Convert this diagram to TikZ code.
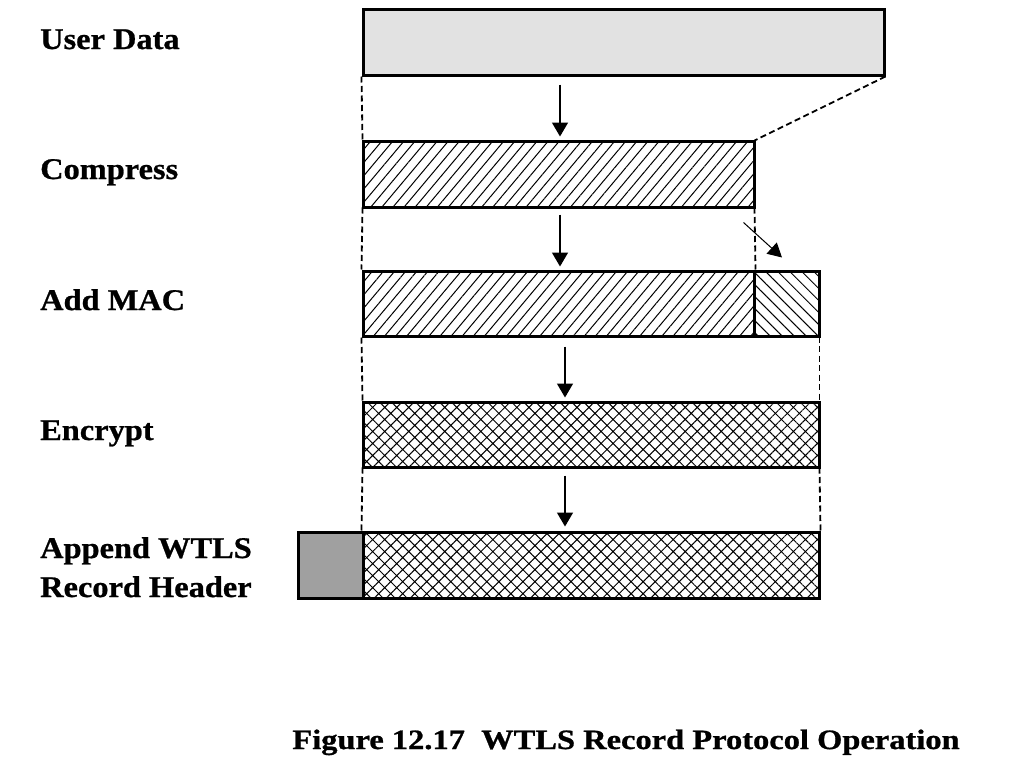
\documentclass[tikz,border=0pt]{standalone}
\usepackage{fontspec}
\setmainfont{Liberation Serif}[BoldFeatures={FakeBold=0.8}]
\usetikzlibrary{patterns.meta,arrows.meta}
\begin{document}
\begin{tikzpicture}[x=1pt,y=-1pt,
  box/.style={draw=black,line width=3pt,inner sep=0pt,minimum height=65pt},
  hatchR/.style={pattern={Lines[angle=50,distance=8.5pt,line width=1pt]}},
  hatchL/.style={pattern={Lines[angle=-45,distance=8.5pt,line width=1pt]}},
  xhatch/.style={pattern={Hatch[angle=45,distance=8.5pt,line width=1pt]}},
  guide/.style={line width=1.8pt,dash pattern=on 6pt off 3.5pt},
  arr/.style={line width=1.5pt,-{Triangle[length=14pt,width=16pt]}},
  thinarr/.style={line width=1pt,-{Triangle[length=14pt,width=15pt]}},
  lbl/.style={anchor=base west,inner sep=0pt,font=\fontsize{30}{34}\selectfont\bfseries}
]
\useasboundingbox[fill=white] (0,0) rectangle (1024,768);

% boxes
\node[box,fill={rgb,255:red,226;green,226;blue,226},minimum width=521pt] (ud) at (623.5,42.5) {};
\node[box,hatchR,minimum width=391pt,minimum height=66pt] (cp) at (558.5,174) {};
\node[box,hatchR,minimum width=391pt] (mac1) at (558.5,303.5) {};
\node[box,hatchL,minimum width=65pt] (mac2) at (786.5,303.5) {};
\node[box,xhatch,minimum width=456pt] (enc) at (591,434.5) {};
\node[box,fill={rgb,255:red,160;green,160;blue,160},minimum width=65pt,minimum height=66pt] (hdr) at (330.5,565) {};
\node[box,xhatch,minimum width=456pt,minimum height=66pt] (enc2) at (591,565) {};

% dashed guides
\draw[guide] (ud.south west) -- (cp.north west);
\draw[guide] (ud.south east) -- (cp.north east);
\draw[guide] (cp.south west) -- (mac1.north west);
\draw[guide] (cp.south east) -- (mac1.north east);
\draw[guide] (mac1.south west) -- (enc.north west);
\draw[guide] (mac2.south east) -- (enc.north east);
\draw[guide] (enc.south west) -- (enc2.north west);
\draw[guide] (enc.south east) -- (enc2.north east);

% arrows
\draw[arr,shorten <=8pt,shorten >=4pt] ([xshift=1.5pt]cp.north |- ud.south) -- ([xshift=1.5pt]cp.north);
\draw[arr,shorten <=7pt,shorten >=3pt] ([xshift=1.5pt]mac1.north |- cp.south) -- ([xshift=1.5pt]mac1.north);
\draw[arr,shorten <=9pt,shorten >=4pt] ([xshift=-26pt]enc.north |- mac1.south) -- ([xshift=-26pt]enc.north);
\draw[arr,shorten <=8pt,shorten >=4pt] ([xshift=-26pt]enc2.north |- enc.south) -- ([xshift=-26pt]enc2.north);
\draw[thinarr] ([shift={(-11,15)}]cp.south east) -- ([shift={(-4.5,-13)}]mac2.north);

% labels
\node[lbl] (l1) at (40,49) {\scalebox{1.08}[1]{User Data}};
\node[lbl] (l2) at (40,179) {\scalebox{1.08}[1]{Compress}};
\node[lbl] (l3) at (40,310) {\scalebox{1.08}[1]{Add MAC}};
\node[lbl] (l4) at (40,440) {\scalebox{1.08}[1]{Encrypt}};
\node[lbl] (l5) at (40,558) {\scalebox{1.08}[1]{Append WTLS}};
\node[lbl] (l6) at (40,597) {\scalebox{1.08}[1]{Record Header}};
\node[anchor=base,inner sep=0pt,font=\fontsize{28}{32}\selectfont\bfseries] (cap) at (626,749) {\scalebox{1.16}[1]{Figure 12.17\ \ WTLS Record Protocol Operation}};
\end{tikzpicture}
\end{document}
